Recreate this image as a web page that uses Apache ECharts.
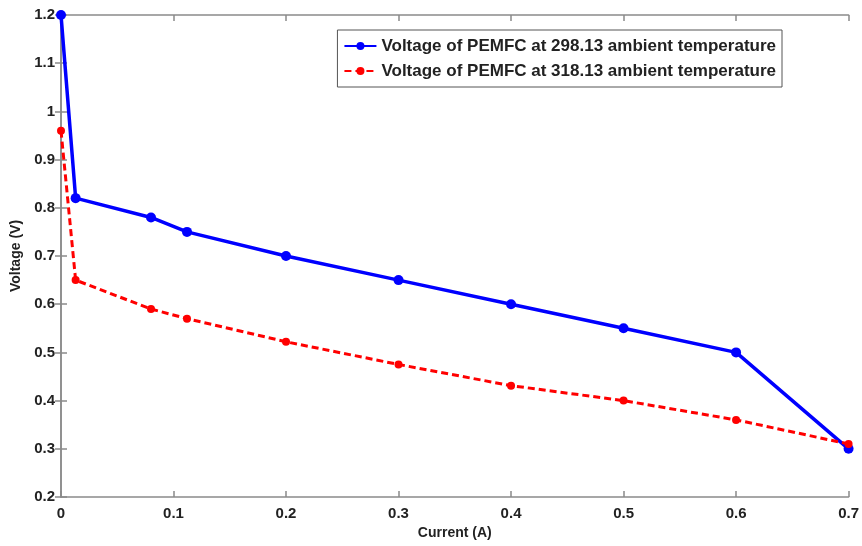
<!DOCTYPE html>
<html>
<head>
<meta charset="utf-8">
<script src="https://cdn.jsdelivr.net/npm/echarts@6/dist/echarts.min.js"></script>
<style>html,body{margin:0;padding:0;background:#fff}#c{width:862px;height:546px}</style>
</head>
<body>
<div id="c"></div>
<script>
var current = [0, 0.013, 0.08, 0.112, 0.2, 0.3, 0.4, 0.5, 0.6, 0.7];
var voltage298 = [1.2, 0.82, 0.78, 0.75, 0.70, 0.65, 0.60, 0.55, 0.50, 0.30];
var voltage318 = [0.96, 0.65, 0.59, 0.57, 0.522, 0.475, 0.431, 0.40, 0.36, 0.31];
var seriesNames = ['Voltage of PEMFC at 298.13 ambient temperature', 'Voltage of PEMFC at 318.13 ambient temperature'];

function pairs(xs, ys) { return xs.map(function (x, i) { return [x, ys[i]]; }); }

var font = 'Liberation Sans, Arial, sans-serif';
var axisGray = '#8a8a8a';
var chart = echarts.init(document.getElementById('c'), null, { renderer: 'canvas' });
var baseX = {
  type: 'value', min: 0, max: 0.7, interval: 0.1,
  axisLine: { show: true, lineStyle: { color: axisGray, width: 1.5 } },
  axisTick: { show: true, inside: true, length: 6, lineStyle: { color: axisGray, width: 1.5 } },
  splitLine: { show: false }
};
var baseY = {
  type: 'value', min: 0.2, max: 1.2, interval: 0.1,
  axisLine: { show: true, lineStyle: { color: axisGray, width: 1.5 } },
  axisTick: { show: true, inside: true, length: 6, lineStyle: { color: axisGray, width: 1.5 } },
  splitLine: { show: false }
};
chart.setOption({
  animation: false,
  backgroundColor: '#fff',
  grid: { left: 61, right: 13, top: 15, bottom: 49, containLabel: false },
  legend: {
    right: 80, top: 30,
    orient: 'vertical',
    backgroundColor: '#fff',
    borderColor: '#555', borderWidth: 1,
    padding: [6, 6, 6, 6],
    itemGap: 5,
    itemWidth: 32, itemHeight: 10,
    textStyle: { fontFamily: font, fontWeight: 'bold', fontSize: 17, lineHeight: 20, color: '#222' },
    data: seriesNames
  },
  xAxis: [
    Object.assign({}, baseX, {
      position: 'bottom',
      name: 'Current (A)', nameLocation: 'middle', nameGap: 26,
      nameTextStyle: { fontFamily: font, fontWeight: 'bold', fontSize: 14, color: '#222' },
      axisLabel: { fontFamily: font, fontWeight: 'bold', fontSize: 15, color: '#222', margin: 9 }
    }),
    Object.assign({}, baseX, { position: 'top', axisLabel: { show: false } })
  ],
  yAxis: [
    Object.assign({}, baseY, {
      position: 'left',
      name: 'Voltage (V)', nameLocation: 'middle', nameGap: 33,
      nameTextStyle: { fontFamily: font, fontWeight: 'bold', fontSize: 14, color: '#222' },
      axisLabel: { fontFamily: font, fontWeight: 'bold', fontSize: 15, color: '#222', margin: 6 }
    }),
    Object.assign({}, baseY, { position: 'right', axisLabel: { show: false } })
  ],
  series: [
    {
      name: seriesNames[0], type: 'line', xAxisIndex: 0, yAxisIndex: 0,
      data: pairs(current, voltage298),
      symbol: 'circle', symbolSize: 10,
      itemStyle: { color: '#0000ff' },
      lineStyle: { color: '#0000ff', width: 3.5 },
      z: 2
    },
    {
      name: seriesNames[1], type: 'line', xAxisIndex: 0, yAxisIndex: 0,
      data: pairs(current, voltage318),
      symbol: 'circle', symbolSize: 8,
      itemStyle: { color: '#ff0000' },
      lineStyle: { color: '#ff0000', width: 3, type: [7, 4] },
      z: 3
    }
  ]
});
</script>
</body>
</html>
